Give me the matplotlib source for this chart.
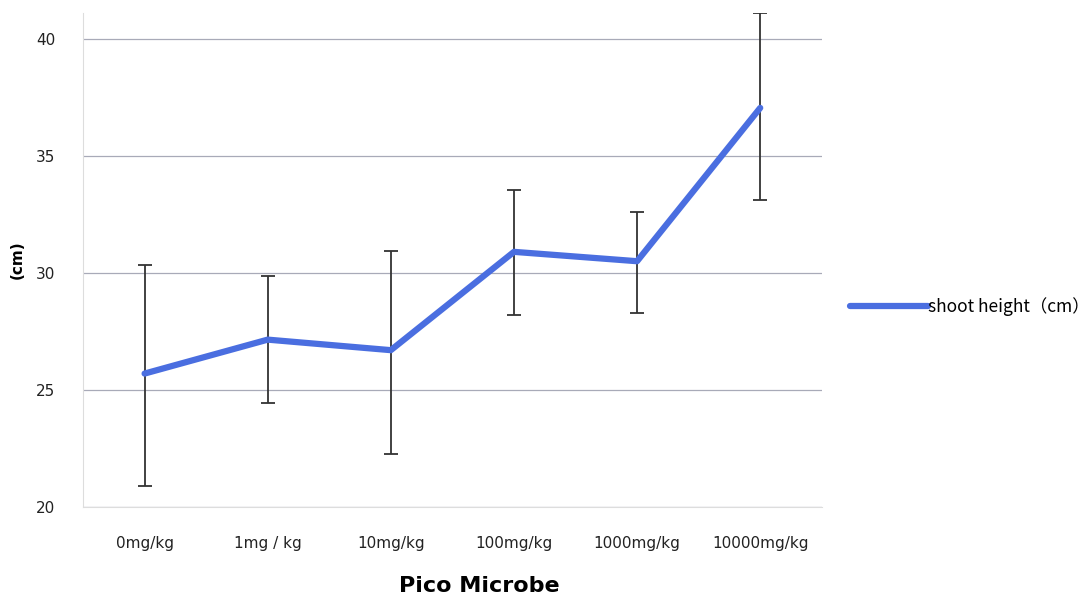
import matplotlib.pyplot as plt

# data
doses = ['0mg/kg', '1mg / kg', '10mg/kg', '100mg/kg', '1000mg/kg', '10000mg/kg']
height = [25.7, 27.15, 26.7, 30.9, 30.5, 37.05]
err_low = [4.8, 2.7, 4.45, 2.7, 2.2, 3.95]
err_high = [4.65, 2.7, 4.25, 2.65, 2.1, 4.05]

fig = plt.figure(figsize=(10.88, 6.09), dpi=100)
ax = fig.add_axes([0.0763, 0.1675, 0.679, 0.811])

x = list(range(len(doses)))
ax.errorbar(x, height, yerr=[err_low, err_high], fmt='none', ecolor='#333333',
            elinewidth=1.3, capsize=5, capthick=1.3, zorder=2)
ax.plot(x, height, color='#4a6ee0', lw=4.5, solid_capstyle='round',
        label='shoot height（cm）', zorder=3)

ax.set_xlim(-0.5, 5.5)
ax.set_ylim(20, 41.1)
ax.set_yticks([20, 25, 30, 35, 40])
ax.set_xticks(x)
ax.set_xticklabels(doses)
ax.tick_params(axis='both', length=0, labelsize=11, colors='#222222')
ax.tick_params(axis='y', pad=20)
ax.tick_params(axis='x', pad=21)
ax.yaxis.grid(True, color='#a8aab8', lw=0.9)
ax.set_axisbelow(True)
for s in ['top', 'right']:
    ax.spines[s].set_visible(False)
for s in ['left', 'bottom']:
    ax.spines[s].set_color('#dddddd')

ax.set_ylabel('(cm)', fontsize=11, fontweight='bold', labelpad=8)
ax.set_xlabel('Pico Microbe', fontsize=16, fontweight='bold', labelpad=18, x=0.537)

ax.legend(loc='center left', bbox_to_anchor=(1.017, 0.405), frameon=False,
          handlelength=4.5, handletextpad=0.0,
          prop={'family': ['Noto Sans CJK SC', 'DejaVu Sans'], 'size': 12.5})

fig.savefig('out.png', dpi=100)
